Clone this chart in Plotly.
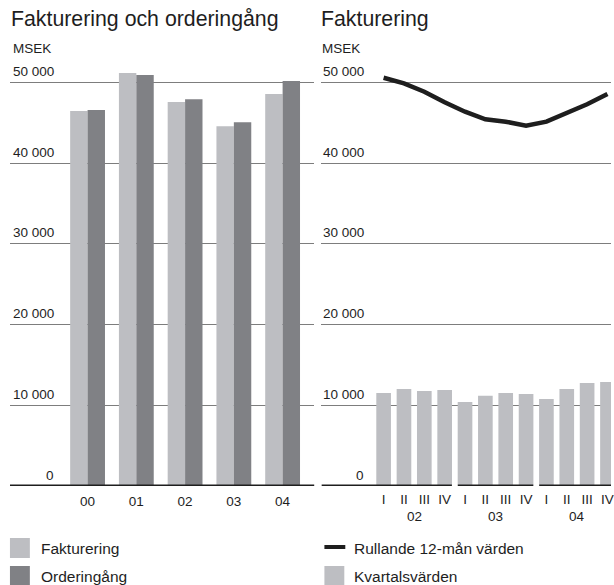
import plotly.graph_objects as go

# ---------------- data ----------------
years_left = ["00", "01", "02", "03", "04"]
fakturering = [46500, 51200, 47600, 44600, 48600]
orderingang = [46600, 50950, 47950, 45100, 50200]

quarter_labels = ["I", "II", "III", "IV", "I", "II", "III", "IV", "I", "II", "III", "IV"]
quarter_years = ["02", "03", "04"]
kvartal = [11540, 12030, 11780, 11910, 10420, 11200, 11540, 11410, 10790, 12030, 12780, 12900]
rullande = [50610, 49920, 48880, 47560, 46400, 45460, 45160, 44660, 45160, 46200, 47320, 48590]

y_ticks = [0, 10000, 20000, 30000, 40000, 50000]
y_tick_text = ["0", "10 000", "20 000", "30 000", "40 000", "50 000"]

# ---------------- style ----------------
W, H = 614, 585
LIGHT = "#bdbec2"
DARK = "#808185"
GRID = "#7d7d7d"
INK = "#1e1e1e"
FONT = "Liberation Sans, Arial, sans-serif"

px_per_unit = 80.67 / 10000.0
base_px = 486.0
top_px = 66.0
y_max = (base_px - top_px) / px_per_unit
ydom = [(H - base_px) / H, (H - top_px) / H]

# left chart: domain 10..316 px, category centers at 88 + 49*i
L0, L1 = 10, 316
xr1 = [(L0 - 88) / 49.0, (L1 - 88) / 49.0]
# right chart: domain 323..614 px, bar centers at 385.5 + 20.45*i
R0, R1 = 323, 614
xr2 = [(R0 - 385.5) / 20.45, (R1 - 385.5) / 20.45]

fig = go.Figure()
xi_left = list(range(len(years_left)))
fig.add_trace(go.Bar(x=xi_left, y=fakturering, name="Fakturering", marker_color=LIGHT,
                     marker_line_width=0, xaxis="x", yaxis="y", showlegend=False))
fig.add_trace(go.Bar(x=xi_left, y=orderingang, name="Orderingång", marker_color=DARK,
                     marker_line_width=0, xaxis="x", yaxis="y", showlegend=False))

xi_right = list(range(len(kvartal)))
fig.add_trace(go.Bar(x=xi_right, y=kvartal, name="Kvartalsvärden", marker_color=LIGHT,
                     marker_line_width=0, width=0.72, xaxis="x2", yaxis="y2",
                     showlegend=False, offsetgroup="r"))
fig.add_trace(go.Scatter(x=xi_right, y=rullande, name="Rullande 12-mån värden", mode="lines",
                         line=dict(color=INK, width=4.5), xaxis="x2", yaxis="y2",
                         showlegend=False))

common_y = dict(range=[0, y_max], domain=ydom, showgrid=True, gridcolor=GRID, gridwidth=1,
                tickvals=y_ticks[1:], showticklabels=False, zeroline=False, showline=False,
                ticks="", fixedrange=True)
fig.update_layout(
    width=W, height=H, margin=dict(l=0, r=0, t=0, b=0),
    paper_bgcolor="white", plot_bgcolor="white",
    font=dict(family=FONT, color=INK, size=13.5),
    barmode="group", bargap=0.286, bargroupgap=0,
    xaxis=dict(domain=[L0 / W, L1 / W], range=xr1, anchor="y", tickvals=xi_left,
               ticktext=years_left, showgrid=False, zeroline=False, showline=False,
               ticks="", ticklabelstandoff=5, tickfont=dict(size=13.5)),
    yaxis=dict(anchor="x", **common_y),
    xaxis2=dict(domain=[R0 / W, R1 / W], range=xr2, anchor="y2", tickvals=xi_right,
                ticktext=quarter_labels, showgrid=False, zeroline=False, showline=False,
                ticks="", ticklabelstandoff=3, ticklabeloverflow="allow",
                tickfont=dict(size=13.5)),
    yaxis2=dict(anchor="x2", **common_y),
    showlegend=False,
)

shapes = []
# baselines
shapes.append(dict(type="line", xref="x", yref="y", x0=xr1[0], x1=xr1[1], y0=0, y1=0,
                   line=dict(color=INK, width=3)))
gap = 3 / 20.45
n_groups = len(quarter_years)
for g in range(n_groups):
    first = g * 4
    last = g * 4 + 3
    x0 = xr2[0] if g == 0 else first - 0.5 + gap
    x1 = xr2[1] if g == n_groups - 1 else last + 0.5 - gap
    shapes.append(dict(type="line", xref="x2", yref="y2", x0=x0, x1=x1, y0=0, y1=0,
                       line=dict(color=INK, width=3)))

# legend swatches (paper px -> fraction)
def rect(x0, y0, x1, y1, color):
    return dict(type="rect", xref="paper", yref="paper", x0=x0 / W, x1=x1 / W,
                y0=1 - y1 / H, y1=1 - y0 / H, fillcolor=color, line=dict(width=0))

shapes.append(rect(10, 538, 30, 558, LIGHT))
shapes.append(rect(10, 566, 30, 586, DARK))
shapes.append(rect(326, 566, 346, 586, LIGHT))
shapes.append(dict(type="line", xref="paper", yref="paper", x0=326 / W, x1=347 / W,
                   y0=1 - 547 / H, y1=1 - 547 / H, line=dict(color=INK, width=4)))
fig.update_layout(shapes=shapes)

ann = []
def text(x, y, s, size, xanchor="left"):
    ann.append(dict(text=s, x=x / W, y=1 - y / H, xref="paper", yref="paper",
                    xanchor=xanchor, yanchor="middle", showarrow=False,
                    font=dict(size=size, family=FONT, color=INK)))

text(9, 19, "Fakturering och orderingång", 21.3)
text(321, 19, "Fakturering", 21.3)
text(11, 48, "MSEK", 13.5)
text(322, 48, "MSEK", 13.5)
text(39, 548, "Fakturering", 15.5)
text(39, 576, "Orderingång", 15.5)
text(354, 548, "Rullande 12-mån värden", 15.5)
text(354, 576, "Kvartalsvärden", 15.5)

# year labels under the quarter numerals (centred on each group of four)
for g, yr in enumerate(quarter_years):
    ann.append(dict(text=yr, x=g * 4 + 1.5, y=0, xref="x2", yref="y2",
                    xanchor="center", yanchor="middle", yshift=-30.5, showarrow=False,
                    font=dict(size=13.5, family=FONT, color=INK)))

for v, s in zip(y_ticks, y_tick_text):
    for xref_px in (56, 368):
        ann.append(dict(text=s, x=xref_px / W, y=v, xref="paper",
                        yref="y" if xref_px == 56 else "y2",
                        xanchor="right", yanchor="middle", yshift=11, showarrow=False,
                        font=dict(size=13.5, family=FONT, color=INK)))
fig.update_layout(annotations=ann)

fig.write_html("out.html", config={"displayModeBar": False, "staticPlot": True},
               post_script="document.body.style.margin='0px';document.body.style.overflow='hidden';")
